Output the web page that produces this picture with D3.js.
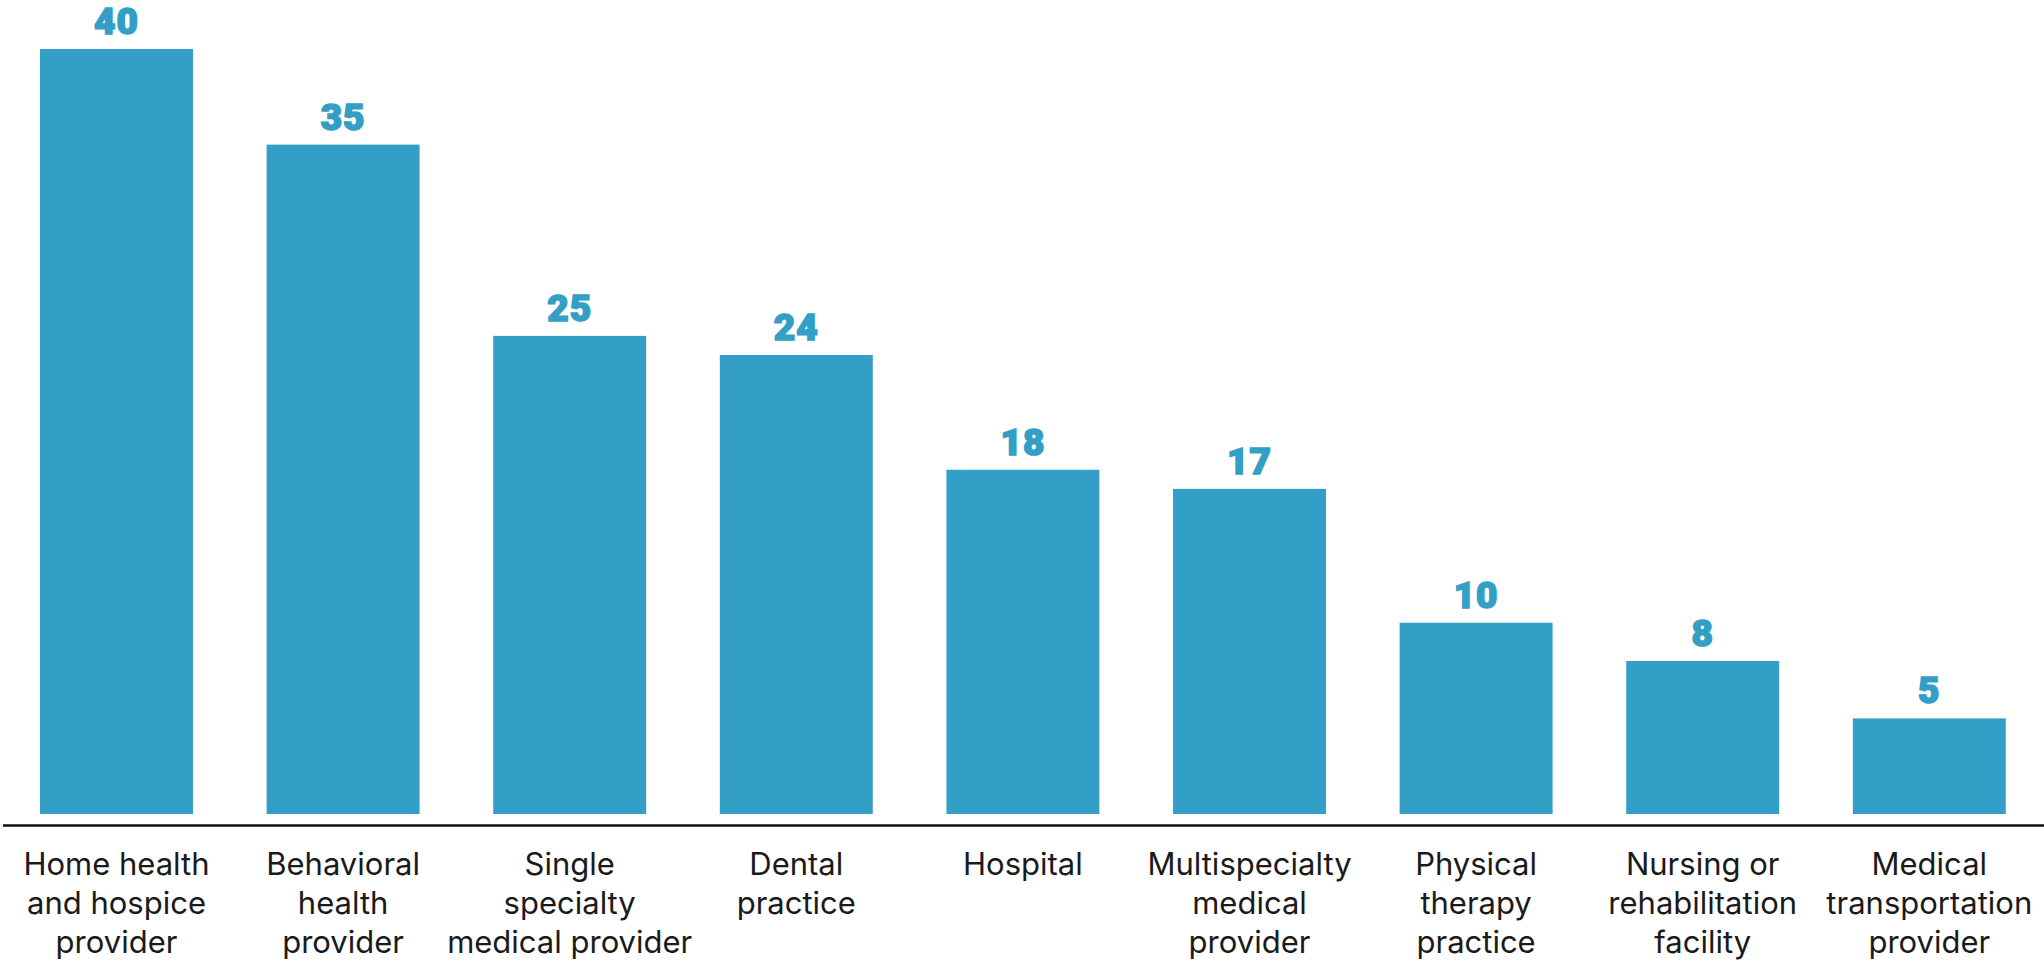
<!DOCTYPE html>
<html>
<head>
<script src="https://d3js.org/d3.v7.min.js"></script>
<style>
  body { margin: 0; background: #fff; }
  .val { font-family: Roboto, sans-serif; font-weight: 900; }
  .cat { font-family: Inter, sans-serif; }
</style>
</head>
<body>
<svg width="2044" height="963"></svg>
<script>
// data
const categories = [
  ["Home health", "and hospice", "provider"],
  ["Behavioral", "health", "provider"],
  ["Single", "specialty", "medical provider"],
  ["Dental", "practice"],
  ["Hospital"],
  ["Multispecialty", "medical", "provider"],
  ["Physical", "therapy", "practice"],
  ["Nursing or", "rehabilitation", "facility"],
  ["Medical", "transportation", "provider"]
];
const values = [40, 35, 25, 24, 18, 17, 10, 8, 5];

const svg = d3.select("svg");
const color = "#339fc6";
const baseY = 814;

const x = d3.scaleBand()
  .domain(d3.range(values.length))
  .range([3.2, 2042.6])
  .paddingInner(0.325)
  .paddingOuter(0.1625);

const y = d3.scaleLinear().domain([0, 40]).range([baseY, 49]);

svg.selectAll("rect.bar")
  .data(values)
  .enter()
  .append("rect")
  .attr("class", "bar")
  .attr("x", (d, i) => x(i))
  .attr("y", d => y(d))
  .attr("width", x.bandwidth())
  .attr("height", d => baseY - y(d))
  .attr("fill", color);

// heavy value labels (stroke to fake a black weight)
svg.selectAll("text.val")
  .data(values)
  .enter()
  .append("text")
  .attr("class", "val")
  .attr("x", (d, i) => x(i) + x.bandwidth() / 2)
  .attr("y", d => y(d) - 15)
  .attr("text-anchor", "middle")
  .attr("font-size", 37)
  .attr("fill", color)
  .attr("stroke", color)
  .attr("stroke-width", 1.6)
  .attr("letter-spacing", 1)
  .text(d => d);

// baseline
svg.append("line")
  .attr("x1", 3).attr("x2", 2044)
  .attr("y1", 825.5).attr("y2", 825.5)
  .attr("stroke", "#111").attr("stroke-width", 2.5);

const cats = svg.selectAll("text.cat")
  .data(categories)
  .enter()
  .append("text")
  .attr("class", "cat")
  .attr("text-anchor", "middle")
  .attr("font-size", 31)
  .attr("fill", "#1a1a1a");

cats.each(function(lines, i) {
  const t = d3.select(this);
  lines.forEach((l, k) => {
    t.append("tspan")
      .attr("x", x(i) + x.bandwidth() / 2)
      .attr("y", 875 + k * 39)
      .text(l);
  });
});
</script>
</body>
</html>
